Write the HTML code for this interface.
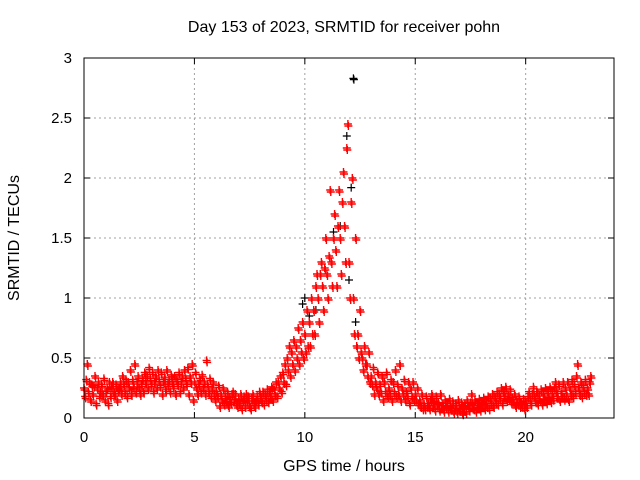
<!DOCTYPE html>
<html><head><meta charset="utf-8"><style>
body{margin:0;background:#fff}
svg{display:block;font-family:"Liberation Sans",sans-serif}
</style></head><body>
<svg id="chart" width="640" height="480" viewBox="0 0 640 480">
<rect width="640" height="480" fill="#fff"/>
<text x="344" y="32" font-size="16" text-anchor="middle">Day 153 of 2023, SRMTID for receiver pohn</text>
<g id="grid"></g>
<g id="axes"></g>
<g id="marks"></g>
<rect x="84" y="58" width="530" height="360" fill="none" stroke="#000" stroke-width="1"/>
<text x="344" y="471" font-size="16" text-anchor="middle">GPS time / hours</text>
<text transform="translate(19,238) rotate(-90)" font-size="16" text-anchor="middle">SRMTID / TECUs</text>
</svg>
<script>
const xTicks=[0,5,10,15,20];
const yTicks=[0,0.5,1,1.5,2,2.5,3];
const yTickLabels=["0","0.5","1","1.5","2","2.5","3"];
const stepHours=0.2;
const redValues=[
[.25,.18,.32,.45],[.22,.3,.15,.28],[.2,.27,.35,.12],[.25,.3,.18,.22],[.28,.2,.33,.15],
[.22,.25,.12,.3],[.18,.26,.3,.22],[.2,.28,.15,.24],[.25,.3,.2,.35],[.28,.22,.32,.18],
[.3,.25,.4,.2],[.32,.26,.45,.22],[.3,.35,.25,.2],[.28,.33,.22,.38],[.3,.36,.25,.42],
[.33,.28,.38,.22],[.3,.35,.25,.4],[.32,.27,.38,.2],[.3,.34,.24,.4],[.28,.32,.22,.36],
[.3,.26,.35,.2],[.32,.28,.38,.22],[.3,.35,.25,.4],[.33,.28,.42,.2],[.35,.3,.45,.15],
[.3,.38,.25,.2],[.28,.33,.22,.36],[.25,.3,.2,.48],[.28,.22,.33,.18],[.25,.3,.2,.15],
[.22,.18,.27,.1],[.2,.15,.25,.12],[.18,.14,.22,.1],[.17,.13,.2,.22],[.15,.2,.12,.1],
[.16,.12,.2,.08],[.15,.18,.1,.2],[.14,.18,.1,.08],[.16,.2,.12,.1],[.15,.18,.12,.22],
[.18,.14,.22,.12],[.2,.16,.24,.14],[.22,.18,.26,.15],[.25,.2,.3,.18],[.3,.25,.35,.22],
[.38,.3,.45,.28],[.5,.4,.6,.35],[.55,.45,.65,.4],[.6,.5,.75,.45],[.65,.55,.8,.5],
[.7,.55,.9,.6],[.8,.6,1.0,.7],[.9,.7,1.1,1.2],[1.0,.8,1.2,1.3],[1.1,.9,1.25,1.5],
[1.2,1.0,1.35,1.9],[1.3,1.1,1.5,1.7],[1.4,1.1,1.6,1.9],[1.5,1.2,1.8,2.05],[1.6,1.3,2.25,2.45],
[1.3,1.0,1.8,2.0],[1.0,.7,1.5,.6],[.7,.5,.9,.55],[.5,.4,.6,.45],[.45,.35,.55,.3],
[.35,.28,.42,.2],[.3,.25,.38,.2],[.28,.22,.35,.15],[.3,.22,.38,.18],[.25,.2,.32,.15],
[.3,.22,.4,.18],[.28,.2,.45,.15],[.25,.2,.32,.15],[.22,.18,.3,.12],[.25,.18,.3,.15],
[.2,.15,.25,.12],[.15,.1,.2,.08],[.12,.08,.18,.1],[.12,.08,.15,.2],[.1,.14,.07,.18],
[.1,.13,.07,.2],[.1,.12,.06,.15],[.09,.12,.06,.16],[.1,.08,.14,.05],[.08,.12,.05,.15],
[.1,.07,.13,.04],[.09,.12,.05,.15],[.1,.07,.13,.2],[.12,.08,.15,.06],[.12,.09,.16,.07],
[.13,.1,.17,.08],[.14,.1,.18,.08],[.16,.12,.2,.1],[.18,.14,.22,.12],[.2,.16,.25,.12],
[.22,.18,.26,.15],[.2,.16,.24,.13],[.17,.13,.2,.1],[.15,.12,.18,.1],[.13,.1,.16,.08],
[.14,.1,.18,.22],[.16,.12,.2,.26],[.18,.14,.22,.12],[.2,.15,.24,.12],[.2,.16,.25,.13],
[.22,.17,.26,.14],[.2,.16,.25,.3],[.22,.18,.28,.15],[.22,.18,.3,.16],[.25,.2,.3,.15],
[.25,.2,.32,.18],[.28,.22,.35,.45],[.25,.2,.3,.18],[.27,.22,.32,.2],[.25,.2,.3,.35]
];
const blackTimes=[12.2,12.22,11.9,12.1,10.0,9.9,11.6,12.3,10.5,12.0,11.3,10.2];
const blackValues=[2.83,2.82,2.35,1.92,1.0,0.95,1.6,0.8,0.9,1.15,1.55,0.85];

const L=84,R=614,T=58,B=418,XMAX=24,YMAX=3;
const xs=v=>L+v/XMAX*(R-L);
const ys=v=>B-v/YMAX*(B-T);
const NS="http://www.w3.org/2000/svg";
const grid=document.getElementById('grid'),axes=document.getElementById('axes'),marks=document.getElementById('marks');
function mk(tag,attrs,parent){const e=document.createElementNS(NS,tag);for(const k in attrs)e.setAttribute(k,attrs[k]);parent.appendChild(e);return e;}
xTicks.forEach(v=>{
  const x=xs(v);
  if(v>0){const g=mk('line',{x1:x,x2:x,y1:T,y2:B,stroke:'#a0a0a0','stroke-dasharray':'2,3'},grid);
  
  }
  const t=mk('line',{x1:x,x2:x,y1:B,y2:B-6,stroke:'#000'},axes);
  
  
  mk('line',{x1:x,x2:x,y1:T,y2:T+6,stroke:'#000'},axes);
  const lb=mk('text',{x:x,y:B+24,'font-size':15,'text-anchor':'middle'},axes);lb.textContent=v;
  
  
});
yTicks.forEach((v,i)=>{
  const y=ys(v);
  if(v>0&&v<YMAX){const g=mk('line',{x1:L,x2:R,y1:y,y2:y,stroke:'#a0a0a0','stroke-dasharray':'2,3'},grid);
  
  }
  const t=mk('line',{x1:L,x2:L+6,y1:y,y2:y,stroke:'#000'},axes);
  
  
  mk('line',{x1:R,x2:R-6,y1:y,y2:y,stroke:'#000'},axes);
  const lb=mk('text',{x:L-12,y:y+5,'font-size':15,'text-anchor':'end'},axes);lb.textContent=yTickLabels[i];
  
  
});
function plus(x,y){return `M${(x-4).toFixed(1)} ${y.toFixed(1)}h8M${x.toFixed(1)} ${(y-4).toFixed(1)}v8`;}
let dk='';
blackTimes.forEach((t,i)=>{dk+=plus(xs(t),ys(blackValues[i]));});
const bp=mk('path',{d:dk,stroke:'#000',fill:'none','stroke-width':1.2},marks);


let dr='';
redValues.forEach((row,i)=>{row.forEach((v,k)=>{
  dr+=plus(xs(i*stepHours+k*0.05),ys(v));
  dr+=plus(xs(i*stepHours+k*0.05+0.025),ys(v)+2);
});});
const rp=mk('path',{d:dr,stroke:'#ff0000',fill:'none','stroke-width':1.4},marks);


</script>
</body></html>
